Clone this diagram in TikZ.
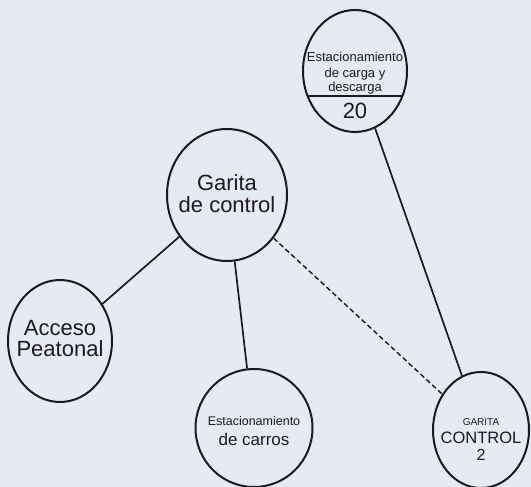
\documentclass[tikz,border=0pt]{standalone}
\usepackage{fontspec}
\setmainfont{Liberation Sans}
\usetikzlibrary{shapes.geometric,calc}
\definecolor{bg}{HTML}{E8EAF3}
\definecolor{ink}{HTML}{1A1A20}
\begin{document}
\begin{tikzpicture}[x=1pt,y=-1pt,
  place/.style={ellipse,draw=ink,line width=2pt,fill=bg,inner sep=0pt},
  link/.style={draw=ink,line width=1.7pt},
  dlink/.style={draw=ink,line width=1.4pt,dash pattern=on 5pt off 3pt},
  txt/.style={inner sep=0pt,text=ink,anchor=base}]
\fill[bg] (0,0) rectangle (531,487);
\useasboundingbox (0,0) rectangle (531,487);
% places
\node[place,minimum width=104pt,minimum height=122pt] (carga) at (355,71) {};
\node[place,minimum width=120pt,minimum height=132pt] (garita) at (227,195) {};
\node[place,minimum width=104pt,minimum height=122pt] (acceso) at (60,341) {};
\node[place,minimum width=117pt,minimum height=118pt] (carros) at (254,428) {};
\node[place,minimum width=96pt,minimum height=116pt] (garita2) at (481,430) {};
% texts
\node[txt,font=\fontsize{13}{15}\selectfont] (cargaA) at (355,62) {Estacionamiento};
\node[txt,font=\fontsize{13}{15}\selectfont] (cargaB) at (355,78) {de carga y};
\node[txt,font=\fontsize{13}{15}\selectfont] (cargaC) at (355,92) {descarga};
\node[txt,font=\fontsize{22}{22}\selectfont] (cargaN) at (355,118) {20};
\draw[draw=ink,line width=1.2pt] ($(carga.center)+(-47,25)$) coordinate (dl) -- ($(carga.center)+(47,25)$) coordinate (dr);
\node[txt,font=\fontsize{22}{22}\selectfont] (garitaA) at (227,190) {Garita};
\node[txt,font=\fontsize{22}{22}\selectfont] (garitaB) at (227,212) {de control};
\node[txt,font=\fontsize{22}{22}\selectfont] (accesoA) at (60,335) {Acceso};
\node[txt,font=\fontsize{22}{22}\selectfont] (accesoB) at (60,356) {Peatonal};
\node[txt,font=\fontsize{12.5}{14}\selectfont] (carrosA) at (254,425) {Estacionamiento};
\node[txt,font=\fontsize{17}{20}\selectfont] (carrosB) at (254,445) {de carros};
\node[txt,font=\fontsize{10}{12}\selectfont] (garita2A) at (481,425) {GARITA};
\node[txt,font=\fontsize{16.5}{18}\selectfont] (garita2B) at (481,443) {CONTROL};
\node[txt,font=\fontsize{16}{18}\selectfont] (garita2C) at (481,460) {2};
% connectors
\draw[link] (garita) -- (acceso);
\draw[link] (garita) -- (carros);
\draw[dlink] (garita) -- (garita2);
\draw[link] (carga) -- (garita2);
\end{tikzpicture}
\end{document}
